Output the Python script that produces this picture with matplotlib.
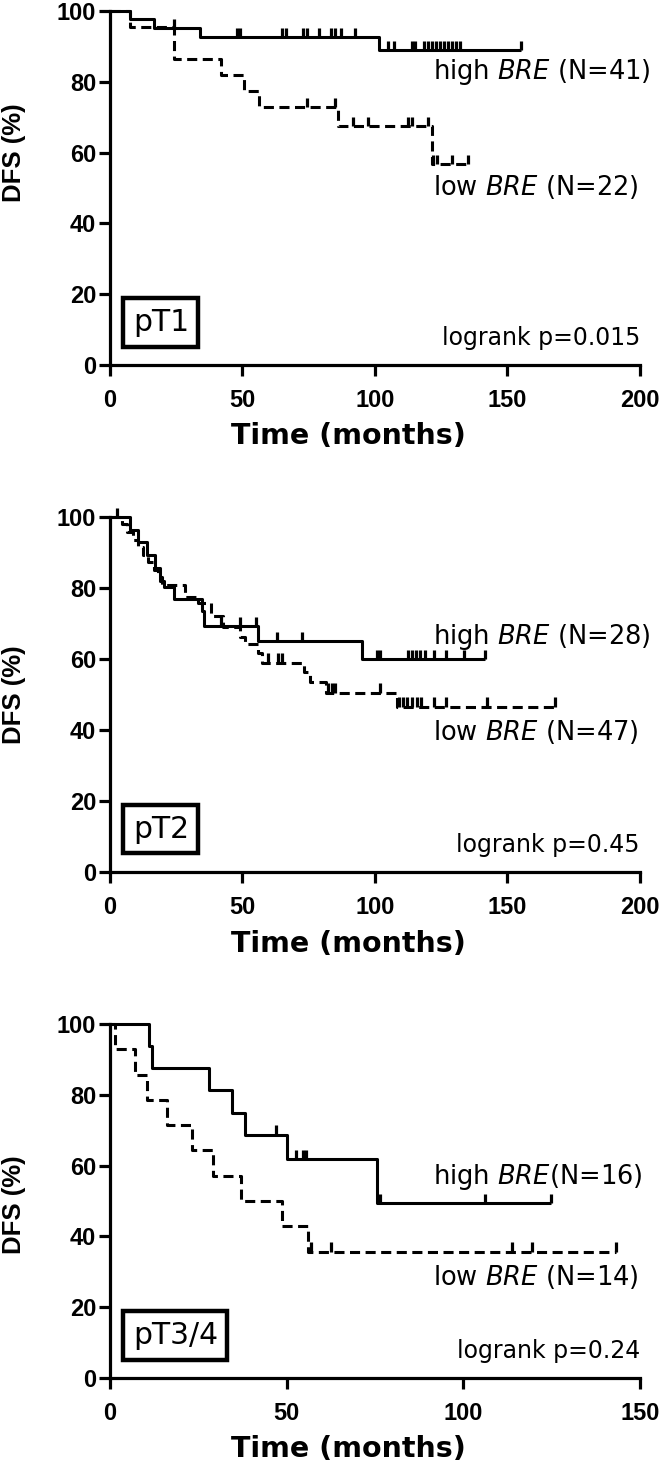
import numpy as np
import matplotlib
matplotlib.use("Agg")
import matplotlib.pyplot as plt

plt.rcParams["font.family"] = ["DejaVu Sans"]
plt.rcParams["mathtext.fontset"] = "dejavusans"

# ---- data ----
# pT1
p1_hi_t = [0, 7.5, 16.7, 34, 101.5, 155]
p1_hi_s = [100, 97.6, 95.1, 92.7, 89.0, 89.0]
p1_hi_c = [24, 48, 49, 65, 66.5, 73, 74.5, 79, 83.5, 85, 87, 92.5, 105, 107, 113.8, 115,
           118.5, 120, 121.5, 123, 124.5, 126, 127.5, 129, 130.5, 132, 155]
p1_lo_t = [0, 7.5, 24.3, 42, 50.7, 56.2, 86.2, 121.4, 135.2]
p1_lo_s = [100, 95.5, 86.4, 81.9, 77.5, 72.8, 67.5, 56.8, 56.8]
p1_lo_c = [74.2, 84.9, 91.8, 97.5, 112.6, 113.9, 120.1, 122, 123.3, 128.9, 135.2]

# pT2
p2_hi_t = [0, 7.5, 10.7, 13.8, 17, 19, 20.5, 24, 34.6, 35.5, 56, 95, 141.5]
p2_hi_s = [100, 96.4, 92.9, 89.3, 85.7, 82.1, 80.4, 77.0, 73.5, 69.3, 65.0, 60.0, 60.0]
p2_hi_c = [42, 49, 55, 62.9, 72.3, 100.6, 101.9, 112.5, 114, 115.5, 117, 119, 122.4,
           126.9, 133.6, 141.5]
p2_lo_t = [0, 4.5, 6.3, 8.5, 10.5, 12.5, 14.5, 16.5, 18, 19.5, 28.3, 33.3, 38.1, 42.8,
           49, 50.9, 56, 57.2, 73.3, 75.5, 81.4, 108.2, 168]
p2_lo_s = [100, 97.9, 95.7, 93.6, 91.5, 89.4, 87.2, 85.1, 83.0, 80.9, 77.6, 75.7, 72.0,
           69.1, 66.3, 64.2, 61.6, 59.0, 56.4, 53.6, 50.5, 46.6, 46.6]
p2_lo_c = [2.5, 59.7, 63.5, 65, 82.4, 83.7, 85, 101.9, 109, 110.5, 112, 114, 115.7,
           117.5, 122.4, 126.9, 142.4, 168]

# pT3/4
p3_hi_t = [0, 11.1, 11.9, 28.1, 34.6, 38.1, 50.1, 75.6, 124.8]
p3_hi_s = [100, 93.75, 87.5, 81.25, 75.0, 68.75, 61.9, 49.5, 49.5]
p3_hi_c = [47.1, 52.7, 54.5, 55.5, 76.5, 106, 124.8]
p3_lo_t = [0, 1.5, 7.1, 10.5, 16.1, 23.3, 29.2, 37.0, 48.8, 56.1, 143.2]
p3_lo_s = [100, 92.9, 85.7, 78.6, 71.4, 64.3, 57.1, 50.0, 42.9, 35.7, 35.7]
p3_lo_c = [56.9, 62.6, 113.8, 119.4, 143.2]

panels = [
    dict(hi=(p1_hi_t, p1_hi_s, p1_hi_c), lo=(p1_lo_t, p1_lo_s, p1_lo_c), xmax=200,
         tag="pT1", hi_lab=r"high $\it{BRE}$ (N=41)", lo_lab=r"low $\it{BRE}$ (N=22)",
         hi_y=82.8, lo_y=50.3, p="logrank p=0.015", top=11, bot=365, ylab_y=0.60),
    dict(hi=(p2_hi_t, p2_hi_s, p2_hi_c), lo=(p2_lo_t, p2_lo_s, p2_lo_c), xmax=200,
         tag="pT2", hi_lab=r"high $\it{BRE}$ (N=28)", lo_lab=r"low $\it{BRE}$ (N=47)",
         hi_y=66.2, lo_y=39.5, p="logrank p=0.45", top=517, bot=872, ylab_y=0.50),
    dict(hi=(p3_hi_t, p3_hi_s, p3_hi_c), lo=(p3_lo_t, p3_lo_s, p3_lo_c), xmax=150,
         tag="pT3/4", hi_lab=r"high $\it{BRE}$(N=16)", lo_lab=r"low $\it{BRE}$ (N=14)",
         hi_y=56.9, lo_y=28.6, p="logrank p=0.24", top=1024, bot=1378, ylab_y=0.49),
]

W, H = 661, 1464
fig = plt.figure(figsize=(W / 100, H / 100), dpi=100)
LW = 2.2
TICKFONT = "Liberation Sans"


def km(ax, t, s, cens, ls):
    ax.step(t, s, where="post", color="k", lw=LW, ls=ls, clip_on=False,
            solid_capstyle="butt", dash_capstyle="butt")
    idx = np.searchsorted(t, cens, side="right") - 1
    lev = np.asarray(s)[np.clip(idx, 0, len(s) - 1)]
    ax.vlines(cens, lev, lev + 2.6, color="k", lw=2.3, clip_on=False)


for p in panels:
    x0, x1 = 110, 640
    ax = fig.add_axes([x0 / W, 1 - p["bot"] / H, (x1 - x0) / W, (p["bot"] - p["top"]) / H])
    km(ax, *p["hi"], "-")
    km(ax, *p["lo"], (0, (3.3, 1.8)))
    ax.set_xlim(0, p["xmax"])
    ax.set_ylim(0, 100)
    ax.set_xticks(np.arange(0, p["xmax"] + 1, 50))
    ax.set_yticks(np.arange(0, 101, 20))
    for side in ("top", "right"):
        ax.spines[side].set_visible(False)
    for side in ("left", "bottom"):
        ax.spines[side].set_linewidth(2.3)
    ax.tick_params(direction="out", length=8, width=2.3)
    ax.tick_params(axis="x", pad=9)
    ax.tick_params(axis="y", pad=2)
    for lab in ax.get_xticklabels() + ax.get_yticklabels():
        lab.set_fontweight("bold")
        lab.set_fontfamily(TICKFONT)
        lab.set_fontsize(17)
    ax.set_xlabel("Time (months)", fontsize=20.5, fontweight="bold")
    ax.xaxis.set_label_coords(0.45, -0.162)
    ax.set_ylabel("DFS (%)", fontsize=18.5, fontweight="bold", family=TICKFONT)
    ax.yaxis.set_label_coords(-0.158, p["ylab_y"])

    xm = p["xmax"]
    xl = (433 - x0) / (x1 - x0) * xm
    ax.text(xl, p["hi_y"], p["hi_lab"], fontsize=18.5, ha="left", va="center")
    ax.text(xl, p["lo_y"], p["lo_lab"], fontsize=18.5, ha="left", va="center")
    ax.text(1.0, 0.075, p["p"], transform=ax.transAxes, fontsize=17, ha="right", va="center")
    ax.text(0.043, 0.12, p["tag"], transform=ax.transAxes, fontsize=21.5, ha="left", va="center",
            bbox=dict(boxstyle="square,pad=0.32", fc="white", ec="black", lw=3.2))

fig.savefig("out.png", dpi=100, facecolor="white")
